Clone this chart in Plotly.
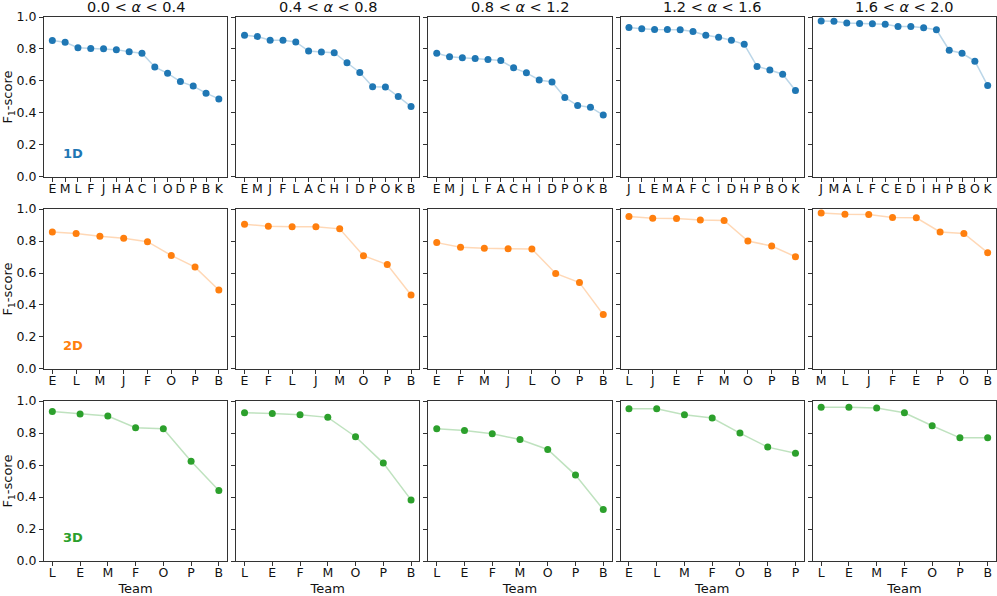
import plotly.graph_objects as go
from plotly.subplots import make_subplots

# Rangos de alpha (columnas)
alpha_bins = ['0.0 &lt; <i>α</i> &lt; 0.4', '0.4 &lt; <i>α</i> &lt; 0.8', '0.8 &lt; <i>α</i> &lt; 1.2',
              '1.2 &lt; <i>α</i> &lt; 1.6', '1.6 &lt; <i>α</i> &lt; 2.0']
dims = ['1D', '2D', '3D']

# 1D
teams_1d = [
    ['E', 'M', 'L', 'F', 'J', 'H', 'A', 'C', 'I', 'O', 'D', 'P', 'B', 'K'],
    ['E', 'M', 'J', 'F', 'L', 'A', 'C', 'H', 'I', 'D', 'P', 'O', 'K', 'B'],
    ['E', 'M', 'J', 'L', 'F', 'A', 'C', 'H', 'I', 'D', 'P', 'O', 'K', 'B'],
    ['J', 'L', 'E', 'M', 'A', 'F', 'C', 'I', 'D', 'H', 'P', 'B', 'O', 'K'],
    ['J', 'M', 'A', 'L', 'F', 'C', 'E', 'D', 'I', 'H', 'P', 'B', 'O', 'K'],
]
f1_1d = [
    [0.853, 0.842, 0.808, 0.803, 0.802, 0.796, 0.783, 0.773, 0.688, 0.648, 0.596, 0.568, 0.524, 0.488],
    [0.886, 0.878, 0.855, 0.855, 0.844, 0.787, 0.781, 0.777, 0.714, 0.653, 0.564, 0.562, 0.503, 0.440],
    [0.773, 0.752, 0.745, 0.741, 0.735, 0.728, 0.682, 0.651, 0.606, 0.594, 0.497, 0.446, 0.436, 0.387],
    [0.935, 0.926, 0.922, 0.922, 0.920, 0.909, 0.886, 0.874, 0.855, 0.829, 0.691, 0.669, 0.642, 0.541],
    [0.975, 0.973, 0.962, 0.960, 0.958, 0.954, 0.941, 0.941, 0.933, 0.920, 0.792, 0.773, 0.724, 0.571],
]

# 2D
teams_2d = [
    ['E', 'L', 'M', 'J', 'F', 'O', 'P', 'B'],
    ['E', 'F', 'L', 'J', 'M', 'O', 'P', 'B'],
    ['E', 'F', 'M', 'J', 'L', 'O', 'P', 'B'],
    ['L', 'J', 'E', 'F', 'M', 'O', 'P', 'B'],
    ['M', 'L', 'J', 'F', 'E', 'P', 'O', 'B'],
]
f1_2d = [
    [0.857, 0.847, 0.830, 0.817, 0.796, 0.710, 0.637, 0.494],
    [0.905, 0.893, 0.889, 0.889, 0.876, 0.708, 0.653, 0.462],
    [0.790, 0.761, 0.754, 0.752, 0.750, 0.597, 0.540, 0.340],
    [0.954, 0.943, 0.941, 0.931, 0.929, 0.800, 0.769, 0.702],
    [0.975, 0.968, 0.966, 0.947, 0.945, 0.857, 0.847, 0.727],
]

# 3D
teams_3d = [
    ['L', 'E', 'M', 'F', 'O', 'P', 'B'],
    ['L', 'E', 'F', 'M', 'O', 'P', 'B'],
    ['L', 'E', 'F', 'M', 'O', 'P', 'B'],
    ['E', 'L', 'M', 'F', 'O', 'B', 'P'],
    ['L', 'E', 'M', 'F', 'O', 'P', 'B'],
]
f1_3d = [
    [0.935, 0.919, 0.906, 0.833, 0.827, 0.624, 0.441],
    [0.927, 0.923, 0.914, 0.898, 0.777, 0.612, 0.382],
    [0.827, 0.816, 0.795, 0.760, 0.697, 0.537, 0.322],
    [0.952, 0.952, 0.914, 0.894, 0.800, 0.712, 0.674],
    [0.962, 0.962, 0.956, 0.927, 0.846, 0.770, 0.770],
]

COLORS = {'1D': '#1f77b4', '2D': '#ff7f0e', '3D': '#2ca02c'}
LINE_COLORS = {'1D': 'rgba(31,119,180,0.3)', '2D': 'rgba(255,127,14,0.3)', '3D': 'rgba(44,160,44,0.3)'}
FONT = 'DejaVu Sans'
AXIS_COLOR = '#333333'

rows = [(teams_1d, f1_1d), (teams_2d, f1_2d), (teams_3d, f1_3d)]

fig = make_subplots(rows=3, cols=5, horizontal_spacing=0.0095, vertical_spacing=0.059)

for r, (teams, scores) in enumerate(rows, start=1):
    dim = dims[r - 1]
    for c in range(1, 6):
        x = teams[c - 1]
        y = scores[c - 1]
        n = len(x)
        fig.add_trace(go.Scatter(
            x=x, y=y, mode='lines', line=dict(color=LINE_COLORS[dim], width=1.5),
            showlegend=False, hoverinfo='skip'
        ), row=r, col=c)
        fig.add_trace(go.Scatter(
            x=x, y=y, mode='markers', marker=dict(color=COLORS[dim], size=7),
            showlegend=False, name=dim
        ), row=r, col=c)
        pad = 0.05 * (n - 1)
        fig.update_xaxes(
            type='category', range=[-pad, n - 1 + pad],
            tickmode='array', tickvals=x, ticktext=x,
            showline=True, mirror=True, linecolor=AXIS_COLOR, linewidth=1,
            ticks='outside', ticklen=4, tickcolor=AXIS_COLOR, ticklabelstandoff=-4,
            showgrid=False, zeroline=False,
            tickfont=dict(size=12.5, color='#111'),
            row=r, col=c
        )
        fig.update_yaxes(
            range=[0, 1.0], tickvals=[0, 0.2, 0.4, 0.6, 0.8, 1.0],
            ticktext=['0.0', '0.2', '0.4', '0.6', '0.8', '1.0'],
            showticklabels=(c == 1),
            showline=True, mirror=True, linecolor=AXIS_COLOR, linewidth=1,
            ticks='outside', ticklen=4, tickcolor=AXIS_COLOR,
            showgrid=False, zeroline=False,
            tickfont=dict(size=12.5, color='#111'),
            row=r, col=c
        )
    fig.update_yaxes(title=dict(text='F<sub>1</sub>-score', font=dict(size=13, color='#111'), standoff=6),
                     row=r, col=1)
    # etiqueta de dimension
    ax = '' if r == 1 else (r - 1) * 5 + 1
    fig.add_annotation(
        text='<b>%s</b>' % dim, x=0.16, y=0.145, xref='x%s domain' % ax, yref='y%s domain' % ax,
        xanchor='center', yanchor='middle',
        showarrow=False, font=dict(size=13, color=COLORS[dim])
    )

for c in range(1, 6):
    fig.update_xaxes(title=dict(text='Team', font=dict(size=13, color='#111'), standoff=4), row=3, col=c)
    idx = '' if c == 1 else c
    fig.add_annotation(
        text=alpha_bins[c - 1], x=0.5, y=1.0, xref='x%s domain' % idx, yref='y%s domain' % idx,
        yanchor='bottom', showarrow=False, font=dict(size=14.5, color='#111')
    )

fig.update_layout(
    width=997, height=596,
    margin=dict(l=44, r=1, t=17, b=35),
    paper_bgcolor='white', plot_bgcolor='white',
    font=dict(family=FONT, color='#111'),
)

# quitar el margen del body para que la figura empiece en (0, 0)
fig.write_html('out.html', config={'displayModeBar': False},
               post_script="document.body.style.margin='0';")
